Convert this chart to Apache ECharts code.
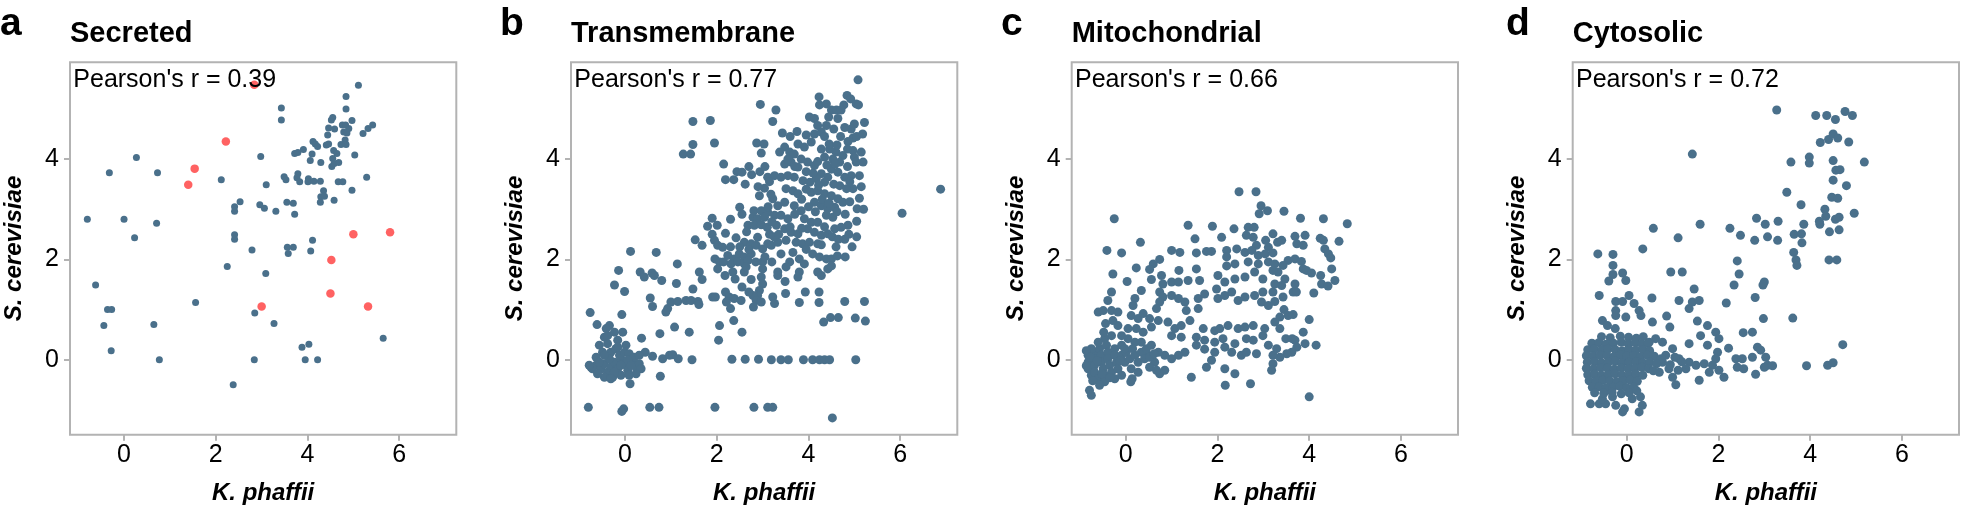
<!DOCTYPE html>
<html>
<head>
<meta charset="utf-8">
<script src="https://cdn.jsdelivr.net/npm/echarts@6/dist/echarts.min.js"></script>
<style>
html,body{margin:0;padding:0;background:#fff;}
#chart{width:1961px;height:512px;}
</style>
</head>
<body>
<div id="chart"></div>
<script>
// ---------- DATA ----------
const panelLetters = ['a', 'b', 'c', 'd'];
const panelTitles = ['Secreted', 'Transmembrane', 'Mitochondrial', 'Cytosolic'];
const pearsonR = ['0.39', '0.77', '0.66', '0.72'];
const xTicks = [0, 2, 4, 6];
const yTicks = [0, 2, 4];
const xName = 'K. phaffii';
const yName = 'S. cerevisiae';

// [K. phaffii, S. cerevisiae]
const secreted = [[-0.80,2.80],[-0.62,1.49],[-0.32,3.73],[-0.36,1.00],[-0.27,1.00],[-0.44,0.68],[-0.28,0.18],[0.00,2.80],[0.23,2.43],[0.27,4.03],[0.73,3.73],[0.71,2.72],[0.65,0.70],[0.77,0.00],[1.56,1.14],[2.12,3.59],[2.25,1.86],[2.41,3.05],[2.41,2.96],[2.53,3.15],[2.41,2.49],[2.41,2.40],[2.38,-0.50],[2.79,2.19],[2.98,4.05],[3.10,3.49],[2.96,3.09],[3.06,3.02],[3.31,2.96],[3.09,1.72],[2.85,0.93],[2.84,0.00],[3.27,0.72],[3.43,5.02],[3.43,4.78],[3.49,3.65],[3.53,3.59],[3.55,3.14],[3.69,3.12],[3.72,2.90],[3.56,2.24],[3.69,2.24],[3.58,2.12],[3.88,0.25],[4.03,0.31],[3.95,0.00],[4.22,0.00],[4.07,2.17],[4.11,2.38],[3.72,4.11],[3.79,4.13],[3.91,4.19],[3.79,3.71],[3.77,3.63],[3.83,3.55],[4.02,3.61],[4.01,3.55],[4.14,3.56],[4.28,3.56],[4.06,3.97],[4.10,4.10],[4.12,4.35],[4.17,4.30],[4.22,4.25],[4.29,3.93],[4.35,3.37],[4.29,3.25],[4.37,3.26],[4.28,3.14],[4.41,4.28],[4.46,4.30],[4.44,4.48],[4.46,4.62],[4.52,4.78],[4.55,4.83],[4.55,4.01],[4.53,3.85],[4.58,3.91],[4.59,4.60],[4.57,4.17],[4.64,4.11],[4.68,3.93],[4.67,3.55],[4.77,3.55],[4.58,3.18],[4.76,4.68],[4.83,4.68],[4.90,4.61],[4.79,4.54],[4.86,4.52],[4.73,4.29],[4.82,4.38],[4.84,4.29],[4.84,5.25],[4.84,5.00],[4.97,4.77],[5.03,4.08],[4.97,3.38],[5.11,5.47],[5.21,4.51],[5.32,4.61],[5.42,4.68],[5.29,3.64],[5.65,0.43]];
const secretedHighlight = [[2.84,5.48],[2.22,4.35],[1.54,3.81],[1.40,3.49],[5.00,2.50],[5.80,2.54],[4.52,1.99],[4.50,1.32],[3.00,1.06],[5.32,1.06]];

const transmembrane = [[2.95,5.09],[1.48,4.75],[1.86,4.77],[1.48,4.29],[1.95,4.32],[1.27,4.10],[1.43,4.10],[2.87,4.32],[3.03,4.30],[2.97,4.12],[2.15,3.90],[2.44,3.75],[2.55,3.74],[2.19,3.59],[2.37,3.59],[2.76,3.69],[2.62,3.50],[2.94,3.75],[3.11,3.64],[3.04,3.42],[2.93,3.27],[2.50,3.04],[2.81,2.97],[2.97,2.97],[3.11,2.94],[2.79,2.84],[2.89,2.81],[3.04,2.84],[2.68,2.68],[2.82,2.68],[2.97,2.69],[3.10,2.64],[1.90,2.82],[2.01,2.68],[1.80,2.66],[2.19,2.52],[1.90,2.50],[1.95,2.38],[2.02,2.28],[2.13,2.24],[1.53,2.39],[1.68,2.28],[2.42,2.43],[2.60,2.34],[2.75,2.31],[2.89,2.44],[2.86,2.28],[3.00,2.21],[3.11,2.31],[2.24,2.08],[2.38,2.01],[2.49,2.11],[2.60,2.05],[2.75,2.11],[1.96,2.01],[2.06,1.95],[2.31,1.91],[2.46,1.95],[2.60,1.91],[2.68,1.98],[2.02,1.81],[2.18,1.68],[2.40,1.61],[2.60,1.75],[2.64,1.85],[3.00,1.95],[3.00,1.81],[2.97,1.65],[3.00,1.51],[2.93,1.38],[2.89,1.28],[2.79,1.28],[2.86,1.18],[2.97,1.15],[2.19,1.35],[2.27,1.25],[2.38,1.22],[2.53,1.18],[1.91,1.25],[1.97,1.25],[2.21,1.15],[2.30,1.02],[2.37,0.78],[2.55,0.55],[2.06,0.68],[2.04,0.39],[0.12,2.16],[0.68,2.14],[-0.14,1.78],[0.33,1.75],[0.42,1.65],[0.59,1.73],[0.64,1.68],[0.80,1.58],[1.14,1.91],[1.12,1.52],[1.62,1.75],[1.68,1.60],[1.48,1.41],[-0.23,1.49],[-0.01,1.36],[0.55,1.23],[0.60,1.06],[0.93,1.02],[1.00,1.15],[1.15,1.16],[1.33,1.18],[1.44,1.18],[1.59,1.16],[1.61,1.10],[0.89,0.95],[-0.76,0.94],[-0.07,0.90],[-0.61,0.70],[-0.34,0.68],[1.08,0.65],[1.40,0.55],[0.76,0.52],[0.36,0.43],[0.44,0.15],[0.60,0.07],[0.82,0.02],[0.97,0.09],[1.04,0.10],[1.16,0.02],[1.46,0.00],[0.77,-0.33],[0.11,-0.48],[2.33,0.01],[2.62,0.01],[2.91,0.01],[-0.80,-0.95],[-0.03,-0.98],[-0.07,-1.03],[0.54,-0.95],[0.74,-0.95],[1.96,-0.95],[2.81,-0.95],[3.11,-0.95],
[-0.74,-0.15],[-0.63,-0.11],[-0.52,-0.18],[-0.45,-0.08],[-0.38,-0.25],[-0.31,-0.15],[-0.23,-0.05],[-0.16,-0.18],[-0.09,0.02],[-0.01,-0.08],[0.06,-0.21],[0.17,-0.01],[0.24,-0.15],[0.31,-0.08],[0.35,-0.18],[-0.63,0.05],[-0.56,0.29],[-0.45,0.45],[-0.38,0.32],[-0.31,0.15],[-0.20,0.22],[-0.12,0.09],[0.02,0.29],[-0.27,-0.35],[-0.45,-0.35],[-0.09,-0.31],[-0.71,-0.18],[-0.60,-0.28],[-0.38,0.48],[-0.49,0.15],[-0.16,0.39],[-0.01,0.15],[0.09,0.12],[0.20,0.05],[0.31,0.09],[0.24,-0.28],[-0.23,0.55],[-0.41,0.62],[-0.05,0.55],[-0.16,0.25],[-0.34,0.02],[-0.56,-0.05],[-0.23,-0.25],[0.06,-0.01],[0.13,-0.11],[-0.09,-0.11],[-0.45,0.09],[-0.78,-0.11],[-0.31,-0.38],[0.09,-0.31],
[5.08,5.58],[4.84,5.27],[4.92,5.20],[5.04,5.10],[5.09,5.08],[4.23,5.24],[4.24,5.08],[4.39,5.10],[4.77,5.08],[3.29,4.98],[4.50,4.98],[4.61,4.98],[4.71,4.98],[3.22,4.75],[4.02,4.84],[4.13,4.81],[4.44,4.84],[4.64,4.81],[5.22,4.73],[5.00,4.70],[4.93,4.60],[4.79,4.63],[4.39,4.67],[4.20,4.67],[3.43,4.52],[4.13,4.50],[4.28,4.54],[4.97,4.42],[4.86,4.35],[3.77,4.30],[3.91,4.24],[4.06,4.34],[3.48,4.24],[3.37,4.14],[3.59,4.14],[3.69,4.10],[5.15,4.14],[5.19,3.94],[4.97,4.17],[5.00,4.04],[5.04,3.94],[4.28,4.20],[4.46,4.20],[4.60,4.14],[4.75,4.07],[4.35,4.04],[4.53,4.00],[4.68,3.94],[3.84,4.00],[3.98,3.94],[4.13,3.87],[3.48,3.90],[3.62,3.94],[3.77,3.84],[5.11,3.67],[4.93,3.67],[4.97,3.41],[4.50,3.80],[4.64,3.74],[4.79,3.64],[4.28,3.71],[4.42,3.64],[4.35,3.54],[3.26,3.67],[3.40,3.64],[3.55,3.67],[3.69,3.64],[3.88,3.57],[4.03,3.54],[4.17,3.61],[4.68,3.47],[4.83,3.41],[6.88,3.40],[5.11,3.22],[3.51,3.41],[3.66,3.37],[3.77,3.31],[4.06,3.34],[4.20,3.37],[4.35,3.31],[4.50,3.27],[4.64,3.21],[4.75,3.14],[6.04,2.92],[5.06,3.01],[3.22,3.21],[3.33,3.07],[3.48,3.14],[3.69,3.07],[3.84,2.97],[4.13,3.14],[4.28,3.07],[4.42,3.01],[4.57,3.04],[4.39,2.88],[4.53,2.84],[5.05,2.76],[4.86,2.68],[4.71,2.64],[4.57,2.61],[3.26,2.88],[3.40,2.88],[3.55,2.81],[3.91,2.81],[4.06,2.74],[4.20,2.74],[3.30,2.68],[3.48,2.61],[3.62,2.54],[3.77,2.51],[3.98,2.61],[4.13,2.54],[4.28,2.48],[4.42,2.51],[4.79,2.40],[3.73,2.34],[3.87,2.31],[4.02,2.34],[4.20,2.31],[4.28,2.29],[3.19,2.28],[3.33,2.34],[3.51,2.38],[3.66,2.14],[3.40,2.11],[4.09,2.11],[4.24,2.05],[4.39,2.01],[4.50,2.01],[4.63,2.07],[4.80,2.05],[3.80,2.01],[3.91,1.91],[3.59,1.95],[3.51,1.85],[3.33,1.75],[3.33,1.68],[3.80,1.75],[3.77,1.65],[4.20,1.75],[4.28,1.68],[4.42,1.81],[4.50,1.87],[3.49,1.56],[3.22,1.25],[3.26,1.12],[3.50,1.32],[3.93,1.35],[4.23,1.35],[3.80,1.14],[4.23,1.14],[4.79,1.16],[5.22,1.16],[4.33,0.75],[4.48,0.84],[4.65,0.84],[5.02,0.83],[5.24,0.77],[3.19,0.00],[3.40,0.00],[3.56,0.00],[3.89,0.00],[4.09,0.00],[4.24,0.00],[4.35,0.00],[4.46,0.00],[5.03,0.00],[3.22,-0.95],[4.52,-1.16],
[3.05,3.85],[3.15,3.55],[3.18,3.30],[3.12,3.05],[3.20,2.75],[3.15,2.50],[3.25,2.45],[3.05,2.05],[3.20,1.95],[3.60,4.45],[3.75,4.55],[3.95,4.48],[4.35,4.45],[4.55,4.60],[4.70,4.45],[4.45,4.30],[4.62,4.28],[4.85,4.20],[3.55,4.00],[3.70,3.85],[3.95,3.75],[4.10,3.72],[4.20,3.95],[4.40,3.88],[4.58,3.90],[4.85,3.85],[4.90,3.55],[4.55,3.50],[4.22,3.48],[3.95,3.40],[3.85,3.20],[4.00,3.05],[4.15,2.95],[4.30,3.20],[4.45,3.12],[4.62,2.95],[4.80,2.90],[4.90,3.15],[3.70,2.90],[3.60,2.65],[3.85,2.62],[4.35,2.65],[4.52,2.45],[4.65,2.40],[3.35,2.50],[3.95,2.20],[4.60,2.25],[4.88,2.50],[5.05,2.45],[4.95,2.25],[5.15,3.45],[5.20,3.00],[5.05,4.45],[5.18,4.50],[2.30,2.80],[2.55,2.90],[2.65,2.55],[2.30,2.25],[2.50,2.25],[2.70,2.20],[2.85,1.95],[2.75,1.60],[2.55,1.45],[2.70,1.35],[2.35,1.75],[2.15,1.95],[2.80,1.05],[2.90,3.45],[2.70,3.85]];

const mitochondrial = [[2.47,3.35],[2.84,3.35],[-0.25,2.81],[2.95,3.07],[2.91,2.91],[3.09,2.97],[1.36,2.68],[1.89,2.66],[2.36,2.61],[2.67,2.64],[2.80,2.64],[2.63,2.48],[2.78,2.44],[3.05,2.38],[2.85,2.28],[3.11,2.24],[0.32,2.34],[1.51,2.41],[2.09,2.44],[-0.41,2.18],[-0.09,2.13],[1.00,2.18],[1.18,2.14],[1.54,2.13],[1.76,2.16],[1.87,2.16],[2.20,2.18],[2.42,2.21],[2.60,2.14],[2.75,2.18],[2.89,2.08],[3.04,2.11],[0.74,2.00],[0.60,1.91],[0.23,1.83],[0.52,1.80],[2.20,2.05],[2.38,1.91],[2.20,1.87],[1.54,1.81],[1.16,1.78],[2.67,1.95],[2.89,1.91],[3.11,1.95],[-0.28,1.71],[0.03,1.56],[0.56,1.60],[0.78,1.68],[0.81,1.51],[1.00,1.55],[1.15,1.55],[1.36,1.58],[1.61,1.58],[2.01,1.68],[2.16,1.55],[2.38,1.61],[2.60,1.65],[2.81,1.75],[2.99,1.61],[-0.31,1.35],[-0.39,1.18],[0.34,1.38],[0.20,1.22],[0.16,1.08],[0.74,1.35],[0.81,1.25],[0.74,1.15],[0.67,1.02],[1.00,1.28],[1.15,1.22],[1.29,1.15],[1.32,0.98],[1.58,1.22],[1.72,1.31],[1.58,1.02],[1.98,1.41],[2.01,1.22],[2.16,1.28],[2.31,1.35],[2.45,1.18],[2.60,1.25],[2.81,1.28],[2.99,1.35],[2.96,1.15],[3.11,1.08],[-0.60,0.95],[-0.49,0.98],[-0.31,0.98],[-0.17,0.95],[0.12,0.88],[0.27,0.82],[0.38,0.92],[0.52,0.82],[0.71,0.78],[0.56,0.65],[0.92,0.75],[1.07,0.62],[1.21,0.68],[1.40,0.78],[1.69,0.62],[1.94,0.58],[2.05,0.62],[2.23,0.68],[2.45,0.62],[2.60,0.65],[2.78,0.68],[3.03,0.62],[1.00,0.48],[1.21,0.45],[1.54,0.45],[1.72,0.39],[1.94,0.35],[2.12,0.42],[2.38,0.32],[2.63,0.42],[2.78,0.39],[2.99,0.48],[1.54,0.29],[1.72,0.21],[1.94,0.15],[2.16,0.25],[2.31,0.15],[2.52,0.09],[2.63,0.15],[2.85,0.12],[3.11,0.29],[1.29,0.15],[1.15,0.09],[1.00,0.02],[0.85,0.09],[0.71,0.15],[0.49,0.09],[0.63,-0.05],[0.52,-0.15],[0.85,-0.21],[0.74,-0.28],[0.67,-0.21],[1.43,-0.35],[1.76,-0.15],[1.87,-0.01],[2.16,-0.18],[2.38,-0.28],[2.17,-0.51],[2.72,-0.48],[0.11,-0.44],[0.14,-0.38],[-0.79,-0.61],[-0.75,-0.71],
[-0.82,0.09],[-0.82,-0.05],[-0.82,-0.18],[-0.75,-0.31],[-0.68,0.15],[-0.68,0.02],[-0.68,-0.11],[-0.68,-0.25],[-0.60,-0.38],[-0.57,0.22],[-0.53,0.09],[-0.53,-0.05],[-0.49,-0.18],[-0.46,-0.31],[-0.42,0.29],[-0.39,0.15],[-0.39,0.02],[-0.35,-0.11],[-0.31,-0.25],[-0.24,0.22],[-0.24,0.09],[-0.20,-0.05],[-0.17,-0.18],[-0.09,0.29],[-0.09,0.09],[-0.02,-0.05],[0.01,0.15],[0.09,0.02],[0.12,-0.18],[0.20,0.09],[0.27,-0.05],[0.34,0.15],[0.41,0.02],[0.34,0.35],[0.20,0.35],[0.05,0.42],[-0.09,0.48],[-0.31,0.48],[-0.46,0.42],[-0.60,0.35],[-0.75,0.22],[-0.24,-0.38],[-0.09,-0.31],[-0.46,-0.44],[-0.57,-0.51],[0.27,-0.25],[0.45,0.22],[0.56,0.29],[0.38,0.55],[0.23,0.62],[0.05,0.62],[-0.17,0.68],[-0.86,0.18],[-0.86,-0.12],[-0.77,0.05],[-0.62,-0.02],[-0.72,-0.42],[-0.52,-0.28],[-0.35,-0.36],[-0.12,-0.02],[-0.02,0.22],[0.15,0.22],[0.52,0.05],[0.62,0.12],[-0.48,0.55],[-0.28,0.78],[-0.44,0.72],
[3.45,2.96],[3.81,2.82],[4.31,2.81],[4.83,2.71],[3.21,2.51],[3.40,2.38],[3.31,2.34],[3.69,2.46],[3.91,2.48],[3.73,2.31],[3.87,2.28],[4.24,2.42],[4.31,2.38],[4.65,2.36],[3.21,2.13],[4.34,2.21],[4.42,2.11],[4.47,2.03],[3.54,1.98],[3.69,2.01],[3.83,1.96],[3.25,1.91],[3.43,1.88],[3.32,1.75],[3.21,1.78],[4.49,1.81],[3.87,1.81],[3.94,1.78],[4.05,1.73],[4.25,1.68],[4.56,1.58],[4.27,1.51],[4.41,1.47],[3.47,1.61],[3.40,1.48],[3.69,1.51],[3.65,1.35],[3.72,1.35],[3.25,1.51],[3.21,1.35],[3.25,1.16],[4.10,1.33],[3.43,1.25],[3.45,1.00],[3.36,0.85],[3.54,0.88],[3.65,0.90],[4.00,0.80],[3.25,0.75],[3.36,0.62],[3.49,0.42],[3.63,0.42],[3.69,0.39],[3.87,0.55],[3.91,0.32],[4.15,0.29],[3.73,0.25],[3.62,0.15],[3.51,0.12],[3.36,0.05],[3.29,0.22],[3.21,0.09],[3.21,-0.08],[3.18,-0.21],[4.00,-0.74]];

const cytosolic = [[1.43,4.10],[2.83,2.82],[3.02,2.70],[3.07,2.45],[2.79,2.38],[0.58,2.62],[1.60,2.70],[2.25,2.62],[2.48,2.48],[1.12,2.43],[0.35,2.21],[-0.63,2.11],[-0.30,2.10],[-0.30,1.88],[-0.30,1.70],[-0.39,1.57],[-0.09,1.73],[-0.02,1.58],[0.96,1.75],[1.21,1.75],[2.41,1.97],[2.45,1.71],[3.00,1.55],[2.97,1.49],[2.34,1.49],[1.47,1.41],[-0.60,1.28],[0.05,1.28],[0.55,1.23],[-0.24,1.16],[-0.09,1.16],[1.14,1.18],[1.43,1.15],[1.58,1.18],[2.80,1.24],[0.16,1.12],[0.27,0.98],[0.31,0.88],[-0.24,0.98],[-0.24,0.88],[-0.02,0.85],[1.36,1.02],[2.17,1.13],[0.87,0.87],[0.94,0.65],[1.54,0.77],[1.76,0.68],[2.98,0.82],[-0.53,0.78],[-0.42,0.68],[-0.25,0.62],[0.56,0.75],[1.61,0.48],[1.94,0.55],[2.01,0.42],[2.54,0.54],[2.74,0.55],[1.76,0.29],[1.36,0.32],[2.22,0.23],[2.85,0.25],[2.92,0.19],[3.03,0.05],[2.38,0.02],[2.52,0.02],[2.74,0.05],[2.41,-0.15],[2.55,-0.18],[3.07,-0.11],[3.00,-0.15],[2.81,-0.29],[1.98,0.15],[1.94,0.02],[1.87,-0.11],[2.01,-0.21],[2.12,-0.35],[1.80,-0.25],[1.58,-0.41],[1.07,-0.50],[1.36,-0.05],[1.51,-0.11],[1.69,-0.08],[1.14,0.02],[1.29,-0.18],[1.00,0.22],[0.85,0.09],[0.78,-0.05],[0.92,-0.18],[0.71,-0.25],[1.00,-0.35],[0.63,0.42],[0.78,0.35],[0.49,0.35],[-0.79,-0.88],[-0.60,-0.88],[-0.46,-0.88],[-0.24,-0.91],[-0.09,-1.04],[-0.05,-0.98],[0.27,-1.04],[0.34,-0.91],[-0.53,-0.78],[-0.31,-0.74],[0.12,-0.78],[0.30,-0.74],
[-0.55,0.46],[-0.36,0.44],[-0.14,0.47],[0.04,0.45],[0.21,0.43],[0.36,0.46],
[-0.76,0.33],[-0.61,0.34],[-0.45,0.31],[-0.29,0.33],[-0.12,0.35],[0.03,0.32],[0.18,0.34],[0.33,0.31],[0.47,0.33],
[-0.85,0.20],[-0.71,0.21],[-0.55,0.19],[-0.41,0.21],[-0.25,0.20],[-0.10,0.18],[0.05,0.21],[0.20,0.19],[0.36,0.20],[0.50,0.18],
[-0.88,0.08],[-0.73,0.07],[-0.58,0.09],[-0.43,0.08],[-0.28,0.06],[-0.13,0.09],[0.00,0.07],[0.15,0.08],[0.30,0.06],[0.45,0.09],[0.60,0.07],[0.75,0.02],[1.05,0.05],
[-0.86,-0.05],[-0.70,-0.04],[-0.55,-0.06],[-0.40,-0.05],[-0.25,-0.03],[-0.10,-0.06],[0.05,-0.05],[0.20,-0.04],[0.35,-0.06],[0.50,-0.05],[0.65,-0.08],[0.95,-0.10],[1.20,-0.04],
[-0.88,-0.17],[-0.72,-0.18],[-0.57,-0.16],[-0.42,-0.17],[-0.27,-0.19],[-0.12,-0.16],[0.03,-0.18],[0.18,-0.17],[0.33,-0.15],[0.48,-0.18],[0.58,-0.22],[1.12,-0.21],
[-0.85,-0.30],[-0.70,-0.29],[-0.55,-0.31],[-0.40,-0.30],[-0.25,-0.28],[-0.10,-0.31],[0.05,-0.30],[0.20,-0.29],[0.35,-0.31],
[-0.82,-0.42],[-0.67,-0.43],[-0.52,-0.41],[-0.37,-0.42],[-0.22,-0.44],[-0.07,-0.42],[0.08,-0.41],[0.23,-0.43],
[-0.75,-0.55],[-0.60,-0.54],[-0.45,-0.56],[-0.30,-0.55],[-0.15,-0.53],[0.00,-0.56],[0.15,-0.55],
[-0.70,-0.66],[-0.50,-0.67],[-0.32,-0.65],[-0.12,-0.68],[0.05,-0.66],[0.22,-0.62],
[3.27,4.98],[4.12,4.87],[4.36,4.87],[4.55,4.79],[4.76,4.95],[4.92,4.87],[4.22,4.33],[4.40,4.39],[4.50,4.50],[4.60,4.42],[4.84,4.34],[3.58,3.94],[3.98,4.04],[3.98,3.92],[4.50,3.97],[5.18,3.94],[4.56,3.78],[4.65,3.79],[4.50,3.58],[4.79,3.47],[3.49,3.34],[4.47,3.24],[4.60,3.22],[3.80,3.09],[4.32,3.00],[4.34,2.86],[4.63,2.84],[4.55,2.80],[4.96,2.92],[3.30,2.76],[3.86,2.70],[4.20,2.76],[4.21,2.70],[4.42,2.55],[4.63,2.59],[3.29,2.38],[3.65,2.50],[3.81,2.51],[3.82,2.33],[3.64,2.14],[3.69,1.99],[3.71,1.88],[4.41,1.99],[4.58,1.99],[3.62,0.83],[4.71,0.30],[3.18,-0.12],[3.92,-0.12],[4.38,-0.11],[4.50,-0.06]];

const panelSeries = [[secreted, secretedHighlight], [transmembrane], [mitochondrial], [cytosolic]];

// ---------- LAYOUT / STYLE ----------
const FONT = '"Liberation Sans", Arial, Helvetica, sans-serif';
const BLUE = '#4a708b';
const RED = '#ff6262';
const GRAY = '#b3b3b3';
const gridLefts = [70, 571, 1071.7, 1572.7];
const letterX = [0, 500, 1001, 1506];
const GRID_TOP = 62.3, GRID_W = 386.3, GRID_H = 372.4;
const X_MIN = -1.178, X_MAX = 7.244, Y_MIN = -1.495, Y_MAX = 5.93;

const grids = [], xAxes = [], yAxes = [], series = [], graphics = [];
gridLefts.forEach((left, i) => {
  grids.push({left: left, top: GRID_TOP, width: GRID_W, height: GRID_H, show: true,
    borderColor: GRAY, borderWidth: 2, backgroundColor: 'transparent'});
  xAxes.push({gridIndex: i, type: 'value', min: X_MIN, max: X_MAX, position: 'bottom',
    splitLine: {show: false}, axisLine: {show: false, onZero: false},
    axisTick: {show: true, length: 6, lineStyle: {color: GRAY, width: 2}, customValues: xTicks},
    axisLabel: {customValues: xTicks, fontSize: 25, color: '#000', margin: 8, fontFamily: FONT},
    name: xName, nameLocation: 'middle', nameGap: 46.6,
    nameTextStyle: {fontSize: 24, fontWeight: 'bold', fontStyle: 'italic', color: '#000', fontFamily: FONT}});
  yAxes.push({gridIndex: i, type: 'value', min: Y_MIN, max: Y_MAX, position: 'left',
    splitLine: {show: false}, axisLine: {show: false, onZero: false},
    axisTick: {show: true, length: 6, lineStyle: {color: GRAY, width: 2}, customValues: yTicks},
    axisLabel: {customValues: yTicks, fontSize: 25, color: '#000', margin: 11, fontFamily: FONT},
    name: yName, nameLocation: 'middle', nameGap: 43.4,
    nameTextStyle: {fontSize: 24, fontWeight: 'bold', fontStyle: 'italic', color: '#000', fontFamily: FONT}});
  panelSeries[i].forEach((data, j) => {
    const hi = j === 1;
    series.push({type: 'scatter', xAxisIndex: i, yAxisIndex: i, data: data,
      symbol: 'circle', symbolSize: i === 0 ? (hi ? 8.5 : 7) : 9,
      itemStyle: {color: hi ? RED : BLUE, opacity: 1},
      silent: true, animation: false, z: hi ? 3 : 2});
  });
  graphics.push({type: 'text', x: letterX[i], y: 24.6,
    style: {text: panelLetters[i], font: 'bold 39px ' + FONT, fill: '#000',
      align: 'left', textAlign: 'left', verticalAlign: 'middle', textVerticalAlign: 'middle'}});
  graphics.push({type: 'text', x: left, y: 34.2,
    style: {text: panelTitles[i], font: 'bold 29px ' + FONT, fill: '#000',
      align: 'left', textAlign: 'left', verticalAlign: 'middle', textVerticalAlign: 'middle'}});
  graphics.push({type: 'text', x: left + 3.3, y: 80.5, z: 10,
    style: {text: "Pearson's r = " + pearsonR[i], font: '25px ' + FONT, fill: '#000',
      align: 'left', textAlign: 'left', verticalAlign: 'middle', textVerticalAlign: 'middle'}});
});

const chart = echarts.init(document.getElementById('chart'), null, {renderer: 'canvas'});
chart.setOption({
  animation: false,
  backgroundColor: '#fff',
  grid: grids, xAxis: xAxes, yAxis: yAxes, series: series,
  graphic: graphics
});
</script>
</body>
</html>
